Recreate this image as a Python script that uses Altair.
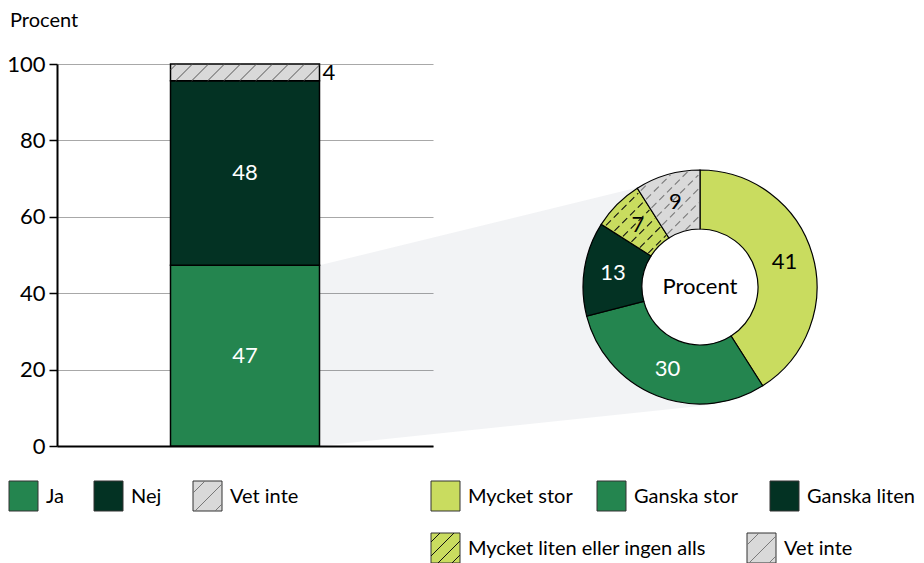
import altair as alt
import numpy as np
import pandas as pd

# ---------------- data ----------------
bar_cats = ["Ja", "Nej", "Vet inte"]
bar_vals = [47.3, 48.3, 4.4]
bar_colors = ["#24854f", "#033223", "#d9d9d9"]
bar_text_colors = ["white", "white", "black"]

pie_cats = ["Mycket stor", "Ganska stor", "Ganska liten",
            "Mycket liten eller ingen alls", "Vet inte"]
pie_vals = [41, 30, 13, 7, 9]
pie_colors = ["#c9dc5f", "#24854f", "#033223", "#c9dc5f", "#d9d9d9"]
pie_text_colors = ["black", "white", "white", "black", "black"]
pie_hatch = [None, None, None, "#111111", "#7a7a7a"]

y_ticks = [0, 20, 40, 60, 80, 100]
axis_title = "Procent"
center_label = "Procent"

left_legend = ["Ja", "Nej", "Vet inte"]
right_legend_row1 = ["Mycket stor", "Ganska stor", "Ganska liten"]
right_legend_row2 = ["Mycket liten eller ingen alls", "Vet inte"]

# ---------------- layout (pixels) ----------------
FONT = "Lato"
OX, OY = 57, 64          # view origin on the page
W, H = 376, 382          # plot area
TOTAL_W, TOTAL_H = 908, 555
BAR_W = 149
CX, CY = 700 - OX, 287 - OY
R_OUT, R_IN, R_LAB = 117, 58, 88
PAD = {"left": OX - 8, "top": OY - 8, "right": TOTAL_W - (OX - 8) - W,
       "bottom": TOTAL_H - (OY - 8) - H}


def ypx(v):
    return H * (1 - v / 100.0)


def hatch_rect(x0, y0, x1, y1, step, phase=0.0):
    segs = []
    c = x0 + y0 + phase
    while c < x1 + y1:
        xa = max(x0, c - y1)
        xb = min(x1, c - y0)
        if xb - xa > 0.8:
            segs.append((xa, c - xa, xb, c - xb))
        c += step
    return segs


def hatch_sector(a0, a1, step, cx, cy, rin, rout):
    segs = []
    xs = np.linspace(cx - rout, cx + rout, 1600)
    for c in np.arange(cx + cy - 1.45 * rout, cx + cy + 1.45 * rout, step):
        ys = c - xs
        dx = xs - cx
        dy = ys - cy
        r = np.hypot(dx, dy)
        ang = np.degrees(np.arctan2(dx, -dy)) % 360
        ins = (r > rin + 1) & (r < rout - 1) & (ang > a0 + 0.8) & (ang < a1 - 0.8)
        idx = np.where(ins)[0]
        if len(idx) == 0:
            continue
        br = np.where(np.diff(idx) > 1)[0]
        st = np.concatenate([[idx[0]], idx[br + 1]])
        en = np.concatenate([idx[br], [idx[-1]]])
        for s, e in zip(st, en):
            if e > s:
                segs.append((xs[s], ys[s], xs[e], ys[e]))
    return segs


def seg_df(segs, color):
    return pd.DataFrame({"x": [s[0] for s in segs], "y": [s[1] for s in segs],
                         "x2": [s[2] for s in segs], "y2": [s[3] for s in segs],
                         "c": color})


# ---------------- bar ----------------
vals = np.array(bar_vals)
starts = np.concatenate([[0], np.cumsum(vals)[:-1]])
bar_df = pd.DataFrame({"grp": "alla", "cat": bar_cats, "y0": starts, "y1": starts + vals,
                       "mid": starts + vals / 2, "fill": bar_colors,
                       "tc": bar_text_colors,
                       "label": [str(int(round(v))) for v in vals]})

po = (W / BAR_W - 1) / 2
xenc = alt.X("grp:N", scale=alt.Scale(paddingInner=0, paddingOuter=po),
             axis=alt.Axis(labels=False, ticks=False, title=None, grid=False,
                           domainColor="black", domainWidth=2))
yaxis = alt.Axis(values=y_ticks, grid=True, gridColor="#a8a8a8", gridWidth=1.2,
                 domainColor="black", domainWidth=2, tickColor="black", tickSize=8,
                 tickWidth=1.5, labelFontSize=22, labelFont=FONT, labelColor="black",
                 labelPadding=4, title=None)
yenc = alt.Y("y0:Q", scale=alt.Scale(domain=[0, 100], nice=False), axis=yaxis)

bar = alt.Chart(bar_df).mark_bar(stroke="black", strokeWidth=1.5).encode(
    x=xenc, y=yenc, y2="y1:Q", color=alt.Color("fill:N", scale=None))
in_df = bar_df[(bar_df.y1 - bar_df.y0) > 10]
out_df = bar_df[(bar_df.y1 - bar_df.y0) <= 10]
bar_txt_in = alt.Chart(in_df).mark_text(font=FONT, fontSize=22).encode(
    x="grp:N", y="mid:Q", text="label:N", color=alt.Color("tc:N", scale=None))
bar_txt_out = alt.Chart(out_df).mark_text(font=FONT, fontSize=22, align="left",
                                          dx=BAR_W / 2 + 3, dy=1).encode(
    x="grp:N", y="mid:Q", text="label:N", color=alt.Color("tc:N", scale=None))
bar_layer = alt.layer(bar, bar_txt_in, bar_txt_out)

bar_left = W / 2 - BAR_W / 2
bar_right = W / 2 + BAR_W / 2

# ---------------- connector polygon ----------------
ja_top = ypx(vals[0])
end_x = 705 - OX
up_slope = (187 - OY - ja_top) / (640 - OX - bar_right)
lo_slope = (405 - OY - H) / (710 - OX - bar_right)
poly_df = pd.DataFrame({"x": [bar_right, end_x],
                        "y": [ja_top, ja_top + up_slope * (end_x - bar_right)],
                        "y2": [H, H + lo_slope * (end_x - bar_right)]})
poly = alt.Chart(poly_df).mark_area(color="#1f2d4d", fillOpacity=0.057).encode(
    x=alt.X("x:Q", scale=None), y=alt.Y("y:Q", scale=None), y2="y2:Q")

# ---------------- donut ----------------
hole = alt.Chart(pd.DataFrame({"v": [1]})).mark_arc(
    radius=R_IN, theta=0, theta2=2 * np.pi, color="white").encode(
    x=alt.value(CX), y=alt.value(CY))

pie_df = pd.DataFrame({"cat": pie_cats, "val": pie_vals, "ord": range(len(pie_cats)),
                       "fill": pie_colors, "tc": pie_text_colors})
arc = alt.Chart(pie_df).mark_arc(radius=R_OUT, radius2=R_IN, stroke="black",
                                 strokeWidth=1.2).encode(
    theta=alt.Theta("val:Q", stack=True), order=alt.Order("ord:Q"),
    color=alt.Color("fill:N", scale=None), x=alt.value(CX), y=alt.value(CY))
arc_txt = alt.Chart(pie_df).mark_text(radius=R_LAB, font=FONT, fontSize=22).encode(
    theta=alt.Theta("val:Q", stack=True), order=alt.Order("ord:Q"),
    text="val:Q", color=alt.Color("tc:N", scale=None), x=alt.value(CX), y=alt.value(CY))
donut = alt.layer(arc, arc_txt)

center_txt = alt.Chart(pd.DataFrame({"t": [center_label]})).mark_text(
    font=FONT, fontSize=22, color="black").encode(
    text="t:N", x=alt.value(CX), y=alt.value(CY))

cum = np.concatenate([[0], np.cumsum(pie_vals)]) / sum(pie_vals) * 360
dash_frames = []
for i, hc in enumerate(pie_hatch):
    if hc:
        dash_frames.append(seg_df(hatch_sector(cum[i], cum[i + 1], 14, CX, CY, R_IN, R_OUT), hc))
dash_df = pd.concat(dash_frames, ignore_index=True)
dash_hatch = alt.Chart(dash_df).mark_rule(strokeWidth=1.1, strokeDash=[7, 4]).encode(
    x=alt.X("x:Q", scale=None), y=alt.Y("y:Q", scale=None), x2="x2:Q", y2="y2:Q",
    color=alt.Color("c:N", scale=None))

# ---------------- legends ----------------
SW = 29
leg_items = []  # (label, fill, hatchcolor, x0_page, ytop_page)
lx = [9, 94, 193]
for lab, x0 in zip(left_legend, lx):
    i = bar_cats.index(lab)
    leg_items.append((lab, bar_colors[i], "#777777" if lab == "Vet inte" else None, x0, 481))
rx1 = [431, 597, 770]
for lab, x0 in zip(right_legend_row1, rx1):
    i = pie_cats.index(lab)
    leg_items.append((lab, pie_colors[i], pie_hatch[i], x0, 481))
rx2 = [431, 747]
for lab, x0 in zip(right_legend_row2, rx2):
    i = pie_cats.index(lab)
    leg_items.append((lab, pie_colors[i], pie_hatch[i], x0, 533))

leg_df = pd.DataFrame({
    "label": [it[0] for it in leg_items],
    "fill": [it[1] for it in leg_items],
    "x": [it[3] - OX for it in leg_items],
    "x2": [it[3] - OX + SW for it in leg_items],
    "y": [it[4] - OY for it in leg_items],
    "y2": [it[4] - OY + SW + 1 for it in leg_items],
    "tx": [it[3] - OX + SW + 8 for it in leg_items],
    "ty": [it[4] - OY + SW / 2 + 1 for it in leg_items],
})
leg_rect = alt.Chart(leg_df).mark_rect(stroke="#333333", strokeWidth=1).encode(
    x=alt.X("x:Q", scale=None), x2="x2:Q", y=alt.Y("y:Q", scale=None), y2="y2:Q",
    color=alt.Color("fill:N", scale=None))
leg_txt = alt.Chart(leg_df).mark_text(font=FONT, fontSize=20, align="left",
                                      baseline="middle", color="black").encode(
    x=alt.X("tx:Q", scale=None), y=alt.Y("ty:Q", scale=None), text="label:N")

solid_frames = [seg_df(hatch_rect(bar_left, ypx(100), bar_right, ypx(100 - vals[2]), 16, 6),
                       "#555555")]
for it in leg_items:
    if it[2]:
        x0, y0 = it[3] - OX, it[4] - OY
        step = 14 if it[2] == "#111111" else 20
        solid_frames.append(seg_df(hatch_rect(x0, y0, x0 + SW, y0 + SW + 1, step, step / 2 + 2),
                                   it[2]))
solid_df = pd.concat(solid_frames, ignore_index=True)
solid_hatch = alt.Chart(solid_df).mark_rule(strokeWidth=1).encode(
    x=alt.X("x:Q", scale=None), y=alt.Y("y:Q", scale=None), x2="x2:Q", y2="y2:Q",
    color=alt.Color("c:N", scale=None))

title_txt = alt.Chart(pd.DataFrame({"t": [axis_title]})).mark_text(
    font=FONT, fontSize=20, align="left", baseline="middle", color="black").encode(
    text="t:N", x=alt.value(10 - OX), y=alt.value(21 - OY))

chart = alt.layer(
    poly, hole, bar_layer, donut, center_txt, dash_hatch, leg_rect, solid_hatch,
    leg_txt, title_txt
).resolve_scale(x="independent", y="independent").properties(
    width=W, height=H, padding=PAD, autosize=alt.AutoSizeParams(type="none")
).configure_view(stroke=None)

chart.save("out.html", embed_options={"renderer": "svg", "actions": False})
